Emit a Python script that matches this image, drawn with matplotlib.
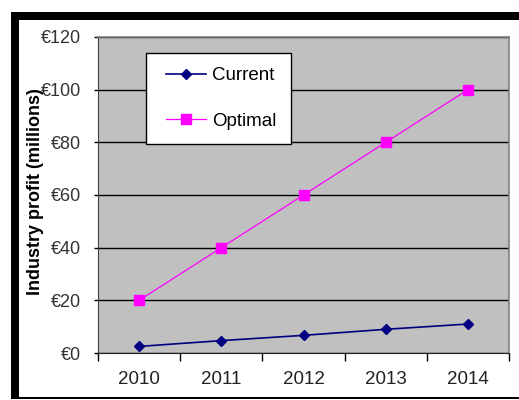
import matplotlib
matplotlib.use("Agg")
import matplotlib.pyplot as plt
from matplotlib.patches import Rectangle
from matplotlib.legend_handler import HandlerLine2D

years = ["2010", "2011", "2012", "2013", "2014"]
current = [2.5, 4.7, 6.7, 9.0, 11.0]
optimal = [20, 40, 60, 80, 100]
yticks = [0, 20, 40, 60, 80, 100, 120]
ytick_labels = ["€0", "€20", "€40", "€60", "€80", "€100", "€120"]

plt.rcParams['font.family'] = ['Liberation Sans', 'DejaVu Sans']

W, H = 519, 400
fig = plt.figure(figsize=(W / 100, H / 100), dpi=100)
fig.patch.set_facecolor('white')

# black frame bars
def px_rect(x0, y0, x1, y1):
    fig.patches.append(Rectangle((x0 / W, 1 - y1 / H), (x1 - x0) / W, (y1 - y0) / H,
                                 transform=fig.transFigure, facecolor='black',
                                 edgecolor='none', zorder=0))
px_rect(11, 12, 519, 20)
px_rect(11, 12, 19, 399)
px_rect(11, 397, 519, 399)

ax = fig.add_axes([98 / W, 1 - 353 / H, 411 / W, 316 / H])
ax.set_facecolor('#C0C0C0')
x = list(range(len(years)))
ax.plot(x, current, color='#000080', lw=1.2, marker='D', markersize=5.5,
        markerfacecolor='#000080', markeredgecolor='#000080', label='Current', zorder=3)
ax.plot(x, optimal, color='#FF00FF', lw=0.9, marker='s', markersize=7,
        markerfacecolor='#FF00FF', markeredgecolor='#FF00FF', label='Optimal', zorder=3)

ax.set_xlim(-0.5, len(years) - 0.5)
ax.set_ylim(0, 120)
ax.set_yticks(yticks)
ax.set_yticklabels(ytick_labels)
ax.set_xticks(x)
ax.set_xticklabels(years)
ax.set_xticks([i - 0.5 for i in range(len(years) + 1)], minor=True)
ax.tick_params(axis='x', which='major', length=0, pad=13, labelsize=13.5, colors='#222222')
ax.tick_params(axis='x', which='minor', length=6, width=1, color='#000000', direction='out')
ax.tick_params(axis='y', length=3, width=1, color='#000000', pad=9, labelsize=13,
               labelcolor='#333333')
ax.yaxis.grid(True, color='black', lw=1)
ax.set_axisbelow(True)
for s in ['top', 'right']:
    ax.spines[s].set_color('#808080')
    ax.spines[s].set_linewidth(1.2)
ax.spines['left'].set_color('#404040')
ax.spines['bottom'].set_color('#202020')

fig.text(36 / W, 1 - 192 / H, "Industry profit (millions)", rotation=90,
         ha='center', va='center', fontsize=13, fontweight='bold')

fs = 13.5
fpx = fs * 100 / 72
hmap = {l: HandlerLine2D(xpad=6 / fpx) for l in ax.get_lines()}
leg = ax.legend(loc='upper left', bbox_to_anchor=(146 / W, 1 - 53 / H),
                bbox_transform=fig.transFigure, frameon=True, fancybox=False,
                edgecolor='black', framealpha=1, fontsize=fs, handlelength=46 / fpx,
                labelspacing=1.52, borderpad=0.76, handletextpad=6 / fpx,
                borderaxespad=0, handler_map=hmap)
leg.get_frame().set_linewidth(1)

fig.savefig("out.png", dpi=100)
